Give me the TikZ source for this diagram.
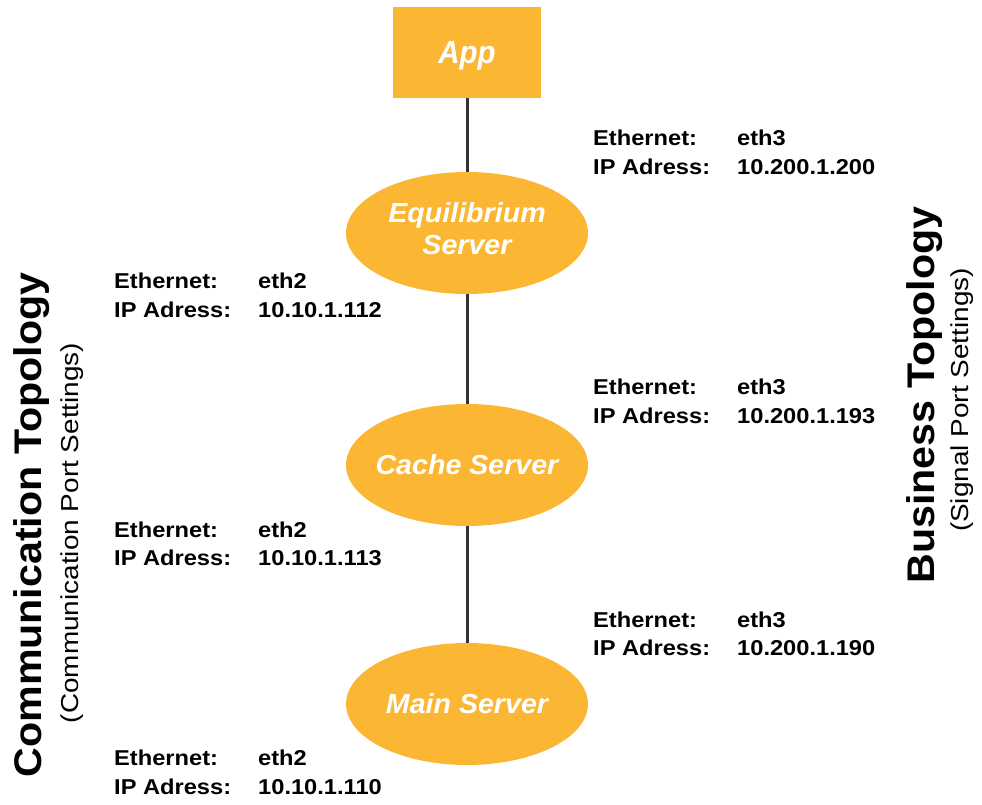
\documentclass[tikz,border=0pt]{standalone}
\usepackage{fontspec}
\usepackage{graphicx}
\setmainfont{Liberation Sans}
\usetikzlibrary{shapes.geometric}
\definecolor{boxorange}{HTML}{FBB634}
\definecolor{linegray}{HTML}{333333}
\newcommand{\lblw}[1]{\scalebox{1.1}[1]{#1}}
\newcommand{\nodew}[1]{\makebox[0pt]{\scalebox{1.04}[1]{#1}}}
\begin{document}
\begin{tikzpicture}[x=1pt,y=-1pt,
  lbl/.style={anchor=base west,inner sep=0pt,font=\fontsize{21.5}{24}\selectfont\bfseries},
  server/.style={ellipse,fill=boxorange,minimum width=242pt,minimum height=122pt,inner sep=0pt,
    text=white,align=center,font=\fontsize{27.5}{33}\selectfont\bfseries\itshape},
  appbox/.style={rectangle,fill=boxorange,minimum width=148pt,minimum height=91pt,inner sep=0pt,
    text=white,text depth=0pt,font=\fontsize{32}{36}\selectfont\bfseries\itshape},
  conn/.style={draw=linegray,line width=3pt},
  title/.style={rotate=90,anchor=base,inner sep=0pt,font=\fontsize{38.5}{42}\selectfont\bfseries},
  subtitle/.style={rotate=90,anchor=base,inner sep=0pt,font=\fontsize{24.5}{27}\selectfont}]
\useasboundingbox (0,0) rectangle (982,805);

\node[appbox] (app) at (467,52.5) {\scalebox{0.92}[1]{App}};
\node[server] (eq) at (467,233) {\nodew{Equilibrium}\\[-1pt]\nodew{Server}\rule[-8pt]{0pt}{8pt}};
\node[server] (cache) at (467,465) {\nodew{Cache Server}};
\node[server] (main) at (467,704) {\nodew{Main Server}};

\draw[conn] (app.south) -- (eq.north);
\draw[conn] (eq.south) -- (cache.north);
\draw[conn] (cache.south) -- (main.north);

% right labels
\node[lbl] (re1) at (593,146) {\lblw{Ethernet:}};
\node[lbl] (re1v) at (737,146) {\lblw{eth3}};
\node[lbl] (ri1) at (593,175) {\lblw{IP Adress:}};
\node[lbl] (ri1v) at (737,175) {\lblw{10.200.1.200}};
\node[lbl] (re2) at (593,394) {\lblw{Ethernet:}};
\node[lbl] (re2v) at (737,394) {\lblw{eth3}};
\node[lbl] (ri2) at (593,423) {\lblw{IP Adress:}};
\node[lbl] (ri2v) at (737,423) {\lblw{10.200.1.193}};
\node[lbl] (re3) at (593,627) {\lblw{Ethernet:}};
\node[lbl] (re3v) at (737,627) {\lblw{eth3}};
\node[lbl] (ri3) at (593,655) {\lblw{IP Adress:}};
\node[lbl] (ri3v) at (737,655) {\lblw{10.200.1.190}};

% left labels
\node[lbl] (le1) at (114,288) {\lblw{Ethernet:}};
\node[lbl] (le1v) at (258,288) {\lblw{eth2}};
\node[lbl] (li1) at (114,317) {\lblw{IP Adress:}};
\node[lbl] (li1v) at (258,317) {\lblw{10.10.1.112}};
\node[lbl] (le2) at (114,537) {\lblw{Ethernet:}};
\node[lbl] (le2v) at (258,537) {\lblw{eth2}};
\node[lbl] (li2) at (114,565) {\lblw{IP Adress:}};
\node[lbl] (li2v) at (258,565) {\lblw{10.10.1.113}};
\node[lbl] (le3) at (114,765) {\lblw{Ethernet:}};
\node[lbl] (le3v) at (258,765) {\lblw{eth2}};
\node[lbl] (li3) at (114,794) {\lblw{IP Adress:}};
\node[lbl] (li3v) at (258,794) {\lblw{10.10.1.110}};

% side titles
\node[title] (ctitle) at (41,525) {\scalebox{1.07}[1]{Communication Topology}};
\node[subtitle] (csub) at (78,533) {\scalebox{1.14}[1]{(Communication Port Settings)}};
\node[title] (btitle) at (934,395) {\scalebox{1.07}[1]{Business Topology}};
\node[subtitle] (bsub) at (968,400) {\scalebox{1.14}[1]{(Signal Port Settings)}};
\end{tikzpicture}
\end{document}
